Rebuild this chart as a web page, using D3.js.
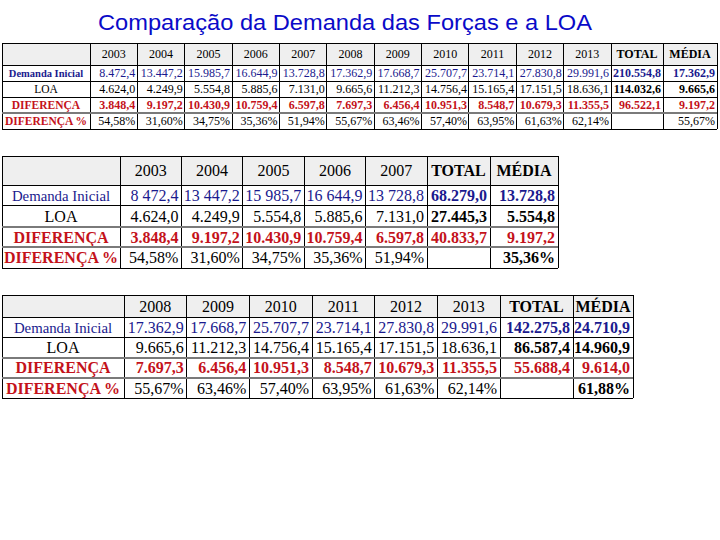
<!DOCTYPE html>
<html><head><meta charset="utf-8">
<script src="https://cdn.jsdelivr.net/npm/d3@7"></script>
<style>body{margin:0;background:#fff}svg{display:block}</style>
</head><body><svg id="c" width="720" height="540"></svg>
<script>
const title = "Comparação da Demanda das Forças e a LOA";
const years = ["2003","2004","2005","2006","2007","2008","2009","2010","2011","2012","2013"];
const rowLabels = ["Demanda Inicial","LOA","DIFERENÇA","DIFERENÇA %"];
const headTotal = "TOTAL", headMedia = "MÉDIA";
const demanda = [8472.4,13447.2,15985.7,16644.9,13728.8,17362.9,17668.7,25707.7,23714.1,27830.8,29991.6];
const loa = [4624.0,4249.9,5554.8,5885.6,7131.0,9665.6,11212.3,14756.4,15165.4,17151.5,18636.1];
const diferenca = [3848.4,9197.2,10430.9,10759.4,6597.8,7697.3,6456.4,10951.3,8548.7,10679.3,11355.5];
const diferencaPct = [54.58,31.60,34.75,35.36,51.94,55.67,63.46,57.40,63.95,61.63,62.14];
const totalAll = [210554.8,114032.6,96522.1,null];
const mediaAll = [17362.9,9665.6,9197.2,55.67];
const total0307 = [68279.0,27445.3,40833.7,null];
const media0307 = [13728.8,5554.8,9197.2,35.36];
const total0813 = [142275.8,86587.4,55688.4,null];
const media0813 = [24710.9,14960.9,9614.0,61.88];

const svg = d3.select("#c");
const BLUE = "#1a1a8e", RED = "#c4121a", BLACK = "#000";
const locDot = d3.formatLocale({decimal:",",thousands:".",grouping:[3],currency:["",""]});
const locSp = d3.formatLocale({decimal:",",thousands:" ",grouping:[3],currency:["",""]});
const fDot = locDot.format(",.1f"), fSp = locSp.format(",.1f"), fPct = v => locDot.format(".2f")(v) + "%";

svg.append("text").attr("x",345).attr("y",30).attr("text-anchor","middle")
  .attr("font-family","Liberation Sans, Arial, sans-serif").attr("font-size",22)
  .attr("textLength",494).attr("lengthAdjust","spacingAndGlyphs")
  .attr("fill","#0a0ac8").text(title);

function drawTable(o){
  const ys = years.slice(o.from, o.to);
  const series = [demanda, loa, diferenca, diferencaPct].map(a => a.slice(o.from, o.to));
  const x = d3.scaleBand().domain(ys).range([o.yearsX0, o.yearsX1]);
  const y = d3.scaleBand().domain(rowLabels).range([o.top + o.headerH, o.bottom]);
  const g = svg.append("g").attr("font-family","Liberation Serif, Times New Roman, serif").attr("font-size", o.fs);
  g.append("rect").attr("x",o.left).attr("y",o.top).attr("width",o.right-o.left).attr("height",o.headerH).attr("fill","#efefef");
  const hy = o.top + o.headerH/2 + o.fs*0.35;
  g.selectAll(".hy").data(ys).join("text").attr("x",d=>x(d)+x.bandwidth()/2).attr("y",hy)
    .attr("text-anchor","middle").text(d=>d);
  g.append("text").attr("x",(o.yearsX1+o.totalX1)/2).attr("y",hy).attr("text-anchor","middle").attr("font-weight","bold").text(headTotal);
  g.append("text").attr("x",(o.totalX1+o.right)/2).attr("y",hy).attr("text-anchor","middle").attr("font-weight","bold").text(headMedia);
  rowLabels.forEach((lab, i) => {
    const ty = y(lab) + y.bandwidth()/2 + o.fs*0.36;
    const s = o.styles[i];
    const vcol = i===3 ? BLACK : s.color;
    g.append("text").attr("x",(o.left+o.yearsX0)/2).attr("y",ty).attr("text-anchor","middle")
      .attr("fill",s.color).attr("font-weight",s.labelBold?"bold":"normal").attr("font-size",s.labelFs).text(lab);
    const fmt = i===3 ? fPct : (s.space ? fSp : fDot);
    g.selectAll(".v"+i).data(series[i]).join("text")
      .attr("x",(d,j)=>x(ys[j])+x.bandwidth()-o.pad).attr("y",ty).attr("text-anchor","end")
      .attr("fill",vcol).attr("font-weight",s.valBold?"bold":"normal").text(d=>fmt(d));
    const fmtT = i===3 ? fPct : fDot;
    if (o.totals[i] != null) g.append("text").attr("x",o.totalX1-o.pad).attr("y",ty).attr("text-anchor","end")
      .attr("fill",vcol).attr("font-weight",s.totBold?"bold":"normal").text(fmtT(o.totals[i]));
    if (o.medias[i] != null) g.append("text").attr("x",o.right-o.pad).attr("y",ty).attr("text-anchor","end")
      .attr("fill",vcol).attr("font-weight",s.medBold?"bold":"normal").text(fmtT(o.medias[i]));
  });
  const vx = [o.left, o.yearsX0].concat(ys.slice(1).map(d=>x(d)), [o.yearsX1, o.totalX1, o.right]);
  g.selectAll(".vl").data(vx).join("line").attr("x1",d=>d).attr("x2",d=>d).attr("y1",o.top).attr("y2",o.bottom)
    .attr("stroke","#000").attr("stroke-width",1).attr("shape-rendering","crispEdges");
  const hl = [o.top, o.top+o.headerH].concat(rowLabels.slice(1).map(d=>y(d)), [o.bottom]);
  g.selectAll(".hl").data(hl).join("line").attr("x1",o.left).attr("x2",o.right).attr("y1",d=>d).attr("y2",d=>d)
    .attr("stroke",(d,k)=> (o.grayRows.includes(k) ? "#7a7a7a" : "#000"))
    .attr("stroke-width",(d,k)=> (o.grayRows.includes(k) ? 2 : 1)).attr("shape-rendering","crispEdges");
}

const styles1 = [
  {color:BLUE,labelBold:true,valBold:false,totBold:true,medBold:true,labelFs:10.5},
  {color:BLACK,labelBold:false,valBold:false,totBold:true,medBold:true,labelFs:11.5},
  {color:RED,labelBold:true,valBold:true,totBold:true,medBold:true,labelFs:11.5},
  {color:RED,labelBold:true,valBold:false,totBold:false,medBold:false,labelFs:11.5}
];
const styles2 = [
  {color:BLUE,labelBold:false,valBold:false,totBold:true,medBold:true,labelFs:14.8,space:true},
  {color:BLACK,labelBold:false,valBold:false,totBold:true,medBold:true,labelFs:16},
  {color:RED,labelBold:true,valBold:true,totBold:true,medBold:true,labelFs:16},
  {color:RED,labelBold:true,valBold:false,totBold:false,medBold:true,labelFs:16}
];
const styles3 = styles2.map((s,i)=> i===0 ? Object.assign({}, s, {space:false}) : s);

drawTable({from:0,to:11,left:2,yearsX0:90,yearsX1:611,totalX1:663,right:717,top:43,headerH:22,bottom:129,
  fs:12,pad:2,grayRows:[4],totals:totalAll,medias:mediaAll,styles:styles1});
drawTable({from:0,to:5,left:2,yearsX0:120,yearsX1:427,totalX1:490,right:558,top:156,headerH:29,bottom:268,
  fs:16,pad:3,grayRows:[3,4],totals:total0307,medias:media0307,styles:styles2});
drawTable({from:5,to:11,left:2,yearsX0:124,yearsX1:500,totalX1:573,right:633,top:295,headerH:22,bottom:398,
  fs:16,pad:3,grayRows:[3,4],totals:total0813,medias:media0813,styles:styles3});
</script>
</body></html>
